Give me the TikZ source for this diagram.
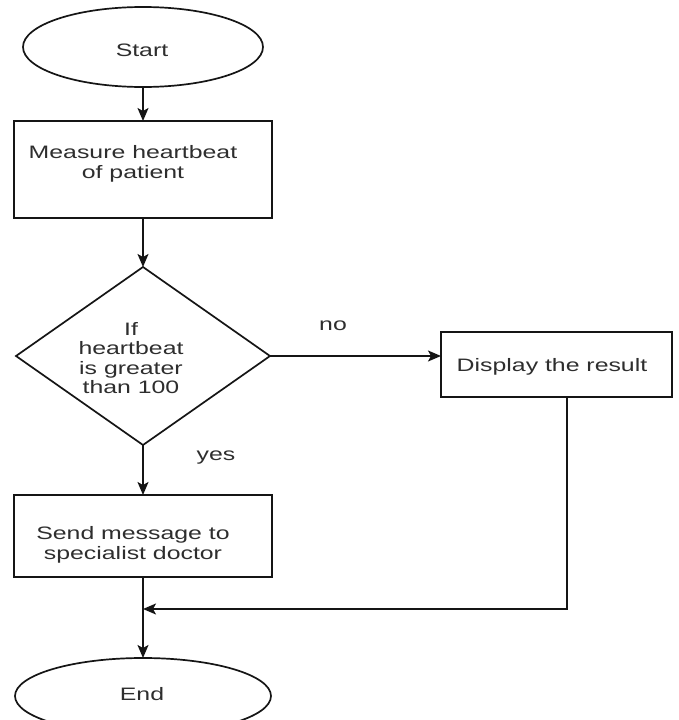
\documentclass[tikz,border=0pt]{standalone}
\usepackage{fontspec}
\setmainfont{Liberation Sans}[FakeStretch=1.38]
\usetikzlibrary{shapes.geometric,arrows.meta}
\definecolor{linec}{HTML}{151515}
\definecolor{textc}{HTML}{2E2E2E}
\begin{document}
\begin{tikzpicture}[x=1pt,y=-1pt,
  every node/.style={inner sep=0pt, outer sep=0pt},
  shp/.style={draw=linec, line width=1.7pt, fill=white},
  txt/.style={text=textc, font=\fontsize{18}{19.5}\selectfont, align=center},
  arr/.style={draw=linec, line width=1.7pt, -{Stealth[length=13pt,width=11pt,inset=3pt]}},
  ln/.style={draw=linec, line width=1.7pt}]
\clip (0,0) rectangle (679,720);
\fill[white] (0,0) rectangle (679,720);
% shapes
\node[shp, ellipse, minimum width=240pt, minimum height=80pt] (start) at (143,47) {};
\node[shp, rectangle, minimum width=258pt, minimum height=97pt] (measure) at (143,169.5) {};
\node[shp, diamond, minimum width=254pt, minimum height=178pt] (dec) at (143,356) {};
\node[shp, rectangle, minimum width=231pt, minimum height=65pt] (disp) at (556.5,364.5) {};
\node[shp, rectangle, minimum width=258pt, minimum height=82pt] (send) at (143,536) {};
\node[shp, ellipse, minimum width=256pt, minimum height=76pt] (end) at (143,696) {};
\coordinate (join) at (143,609);
% texts
\node[txt] (tstart) at (142,50) {Start};
\node[txt] (tmeasure) at (133,164) {Measure heartbeat\\of patient};
\node[txt] (tdec) at (131,358) {If\\heartbeat\\is greater\\than 100};
\node[txt] (tdisp) at (552,367) {Display the result};
\node[txt] (tsend) at (133,545) {Send message to\\specialist doctor};
\node[txt] (tend) at (142,694) {End};
\node[txt] (no) at (333,326) {no};
\node[txt] (yes) at (216,458) {yes};
% connectors
\draw[arr] (start) -- (measure);
\draw[arr] (measure) -- (dec);
\draw[arr] (dec.east) -- (dec.east -| disp.west);
\draw[arr] (dec) -- (send);
\draw[arr] (send) -- (end);
\draw[arr] ([xshift=10.5pt]disp.south) |- (join);
\end{tikzpicture}
\end{document}
